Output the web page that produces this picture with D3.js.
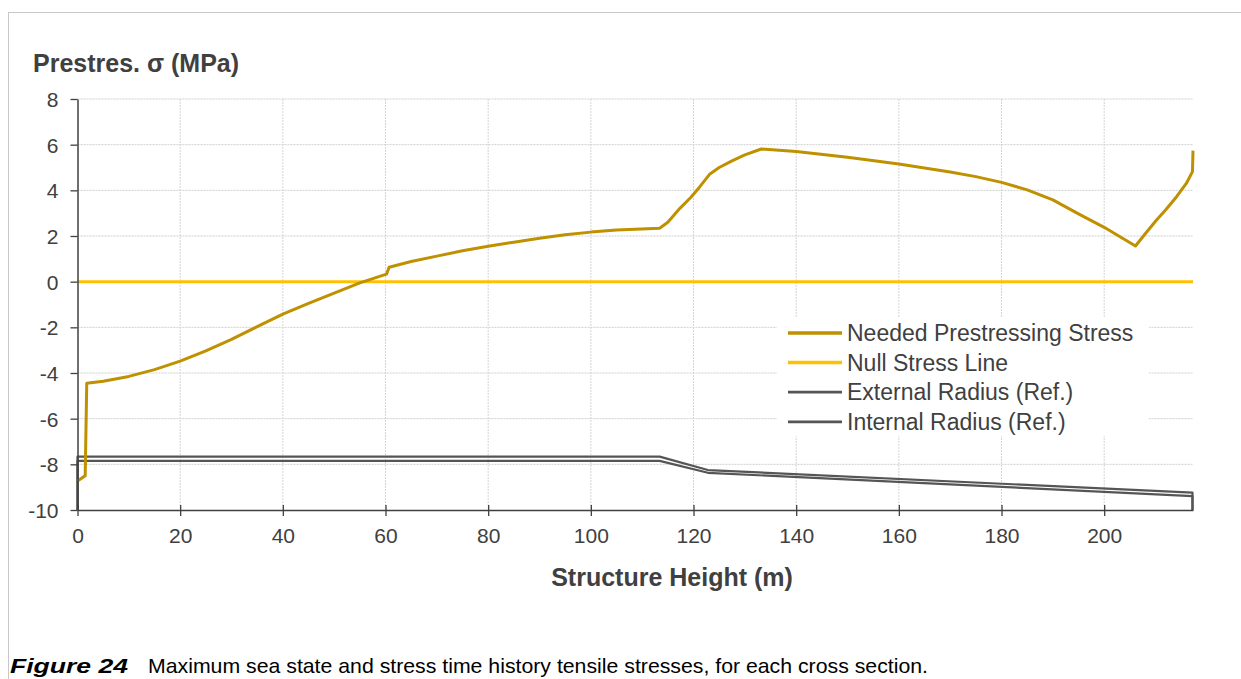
<!DOCTYPE html>
<html>
<head>
<meta charset="utf-8">
<script src="https://cdnjs.cloudflare.com/ajax/libs/d3/7.8.5/d3.min.js"></script>
<style>
	body { margin: 0; background: #fff; }
	svg { display: block; font-family: Arial, "Liberation Sans", sans-serif; }
</style>
</head>
<body>
<div id="chart"></div>
<script>

/* --------------------- Data ---------------------- */

// needed prestressing stress along the tower height
let heights = [0, 1.5, 1.8, 5, 10, 15, 20, 25, 30, 35, 40, 45, 50, 55, 60.2, 60.7, 65, 70, 75, 80, 85, 90, 95,
	100, 105, 113.4, 115, 117.3, 119.5, 121.2, 123.2, 125, 127.6, 130, 133.2, 140, 150, 160, 170, 175, 180,
	185, 190, 195, 200, 203, 206.1, 208, 210.2, 212, 214.1, 216, 217.2, 217.3];
let prestress = [-8.73, -8.5, -4.45, -4.36, -4.15, -3.85, -3.48, -3.03, -2.53, -1.97, -1.42, -0.95, -0.5, -0.05,
	0.33, 0.63, 0.88, 1.12, 1.35, 1.55, 1.73, 1.9, 2.05, 2.17, 2.26, 2.34, 2.6, 3.2, 3.7, 4.15, 4.72, 5.0, 5.3,
	5.55, 5.81, 5.7, 5.45, 5.15, 4.8, 4.6, 4.35, 4.02, 3.58, 2.97, 2.38, 1.98, 1.56, 2.1, 2.7, 3.15, 3.72,
	4.3, 4.82, 5.74];

// null stress line
let nullHeights = [0, 217.3];
let nullStress = [0, 0];

// reference radius outlines
let radiusHeights = [0, 0, 113.4, 122.8, 217.2, 217.2];
let externalRadius = [-10, -7.66, -7.66, -8.25, -9.24, -10];
let internalRadius = [-10, -7.85, -7.85, -8.37, -9.39, -10];

let seriesNames = ['Needed Prestressing Stress', 'Null Stress Line', 'External Radius (Ref.)', 'Internal Radius (Ref.)'];
let xTicks = [0, 20, 40, 60, 80, 100, 120, 140, 160, 180, 200];
let yTicks = [-10, -8, -6, -4, -2, 0, 2, 4, 6, 8];

/* --------------------- Chart ---------------------- */

let width = 1241;
let height = 679;
let plot = {left: 77.5, right: 1193, top: 99, bottom: 510};
let textColor = '#404040';

let svg = d3.select('#chart')
	.append('svg')
	.attr('width', width)
	.attr('height', height);

// page frame
svg.append('rect')
	.attr('x', 8.5).attr('y', 12.5)
	.attr('width', 1300).attr('height', 800)
	.attr('fill', 'none')
	.attr('stroke', '#c8c8c8');

let x = d3.scaleLinear()
	.domain([0, 217.3])
	.range([plot.left, plot.right]);

let y = d3.scaleLinear()
	.domain([-10, 8])
	.range([plot.bottom, plot.top]);

// gridlines
svg.append('g').selectAll('line')
	.data(yTicks.filter(d => d !== -10))
	.enter().append('line')
		.attr('x1', plot.left).attr('x2', plot.right)
		.attr('y1', d => y(d)).attr('y2', d => y(d))
		.attr('stroke', '#cfcfcf')
		.attr('stroke-dasharray', '2,1');

svg.append('g').selectAll('line')
	.data(xTicks.filter(d => d !== 0))
	.enter().append('line')
		.attr('x1', d => x(d)).attr('x2', d => x(d))
		.attr('y1', plot.top).attr('y2', plot.bottom)
		.attr('stroke', '#d4d4d4')
		.attr('stroke-dasharray', '2,1');

// series lines
let line = d3.line()
	.x(d => x(d[0]))
	.y(d => y(d[1]));

let series = [
	{name: seriesNames[0], xs: heights, ys: prestress, color: '#bf9000', w: 3},
	{name: seriesNames[1], xs: nullHeights, ys: nullStress, color: '#ffc000', w: 3},
	{name: seriesNames[2], xs: radiusHeights, ys: externalRadius, color: '#555555', w: 2.2},
	{name: seriesNames[3], xs: radiusHeights, ys: internalRadius, color: '#555555', w: 2.2}
];

// draw radius lines first, then the stress lines on top
[series[2], series[3], series[1], series[0]].forEach(function(s) {
	svg.append('path')
		.datum(d3.zip(s.xs, s.ys))
		.attr('d', line)
		.attr('fill', 'none')
		.attr('stroke', s.color)
		.attr('stroke-width', s.w)
		.attr('stroke-linejoin', 'round');
});

// axes (plain hyphen for negatives, like the source)
let xAxis = svg.append('g')
	.attr('transform', 'translate(0,' + plot.bottom + ')')
	.call(d3.axisBottom(x).tickValues(xTicks).tickFormat(d => String(d))
		.tickSize(6).tickSizeOuter(0).tickPadding(12));

xAxis.selectAll('.tick line').attr('y1', -5);

let yAxis = svg.append('g')
	.attr('transform', 'translate(' + plot.left + ',0)')
	.call(d3.axisLeft(y).tickValues(yTicks).tickFormat(d => String(d))
		.tickSize(7).tickSizeOuter(0).tickPadding(12));

[xAxis, yAxis].forEach(function(ax) {
	ax.select('.domain').attr('stroke', textColor).attr('stroke-width', 1.5);
	ax.selectAll('.tick line').attr('stroke', textColor).attr('stroke-width', 1.3);
	ax.selectAll('text')
		.attr('fill', textColor)
		.style('font-size', '21px')
		.style('font-family', 'Arial, "Liberation Sans", sans-serif');
});
yAxis.selectAll('text').attr('dy', '0.36em');

// axis titles
svg.append('text')
	.attr('x', 33).attr('y', 72)
	.attr('fill', textColor)
	.style('font-size', '25px')
	.style('font-weight', 'bold')
	.text('Prestres. σ (MPa)');

svg.append('text')
	.attr('x', 672).attr('y', 586)
	.attr('text-anchor', 'middle')
	.attr('fill', textColor)
	.style('font-size', '25px')
	.style('font-weight', 'bold')
	.text('Structure Height (m)');

// legend
let legend = svg.append('g');
legend.append('rect')
	.attr('x', 777).attr('y', 318)
	.attr('width', 372).attr('height', 118)
	.attr('fill', '#fff');

let rows = legend.selectAll('g.row')
	.data(series)
	.enter().append('g')
	.attr('transform', (d, i) => 'translate(0,' + (333 + i * 29.6) + ')');

rows.append('line')
	.attr('x1', 788).attr('x2', 842)
	.attr('stroke', d => d.color)
	.attr('stroke-width', d => d.w + 0.5);

rows.append('text')
	.attr('x', 847).attr('y', 8)
	.attr('fill', textColor)
	.style('font-size', '23px')
	.text(d => d.name);

// caption
svg.append('text')
	.attr('x', 10).attr('y', 673)
	.attr('fill', '#000')
	.attr('textLength', 118)
	.attr('lengthAdjust', 'spacingAndGlyphs')
	.style('font-size', '21px')
	.style('font-weight', 'bold')
	.style('font-style', 'italic')
	.text('Figure 24');

svg.append('text')
	.attr('x', 148).attr('y', 673)
	.attr('fill', '#000')
	.attr('textLength', 780)
	.attr('lengthAdjust', 'spacingAndGlyphs')
	.style('font-size', '21px')
	.text('Maximum sea state and stress time history tensile stresses, for each cross section.');

</script>
</body>
</html>
